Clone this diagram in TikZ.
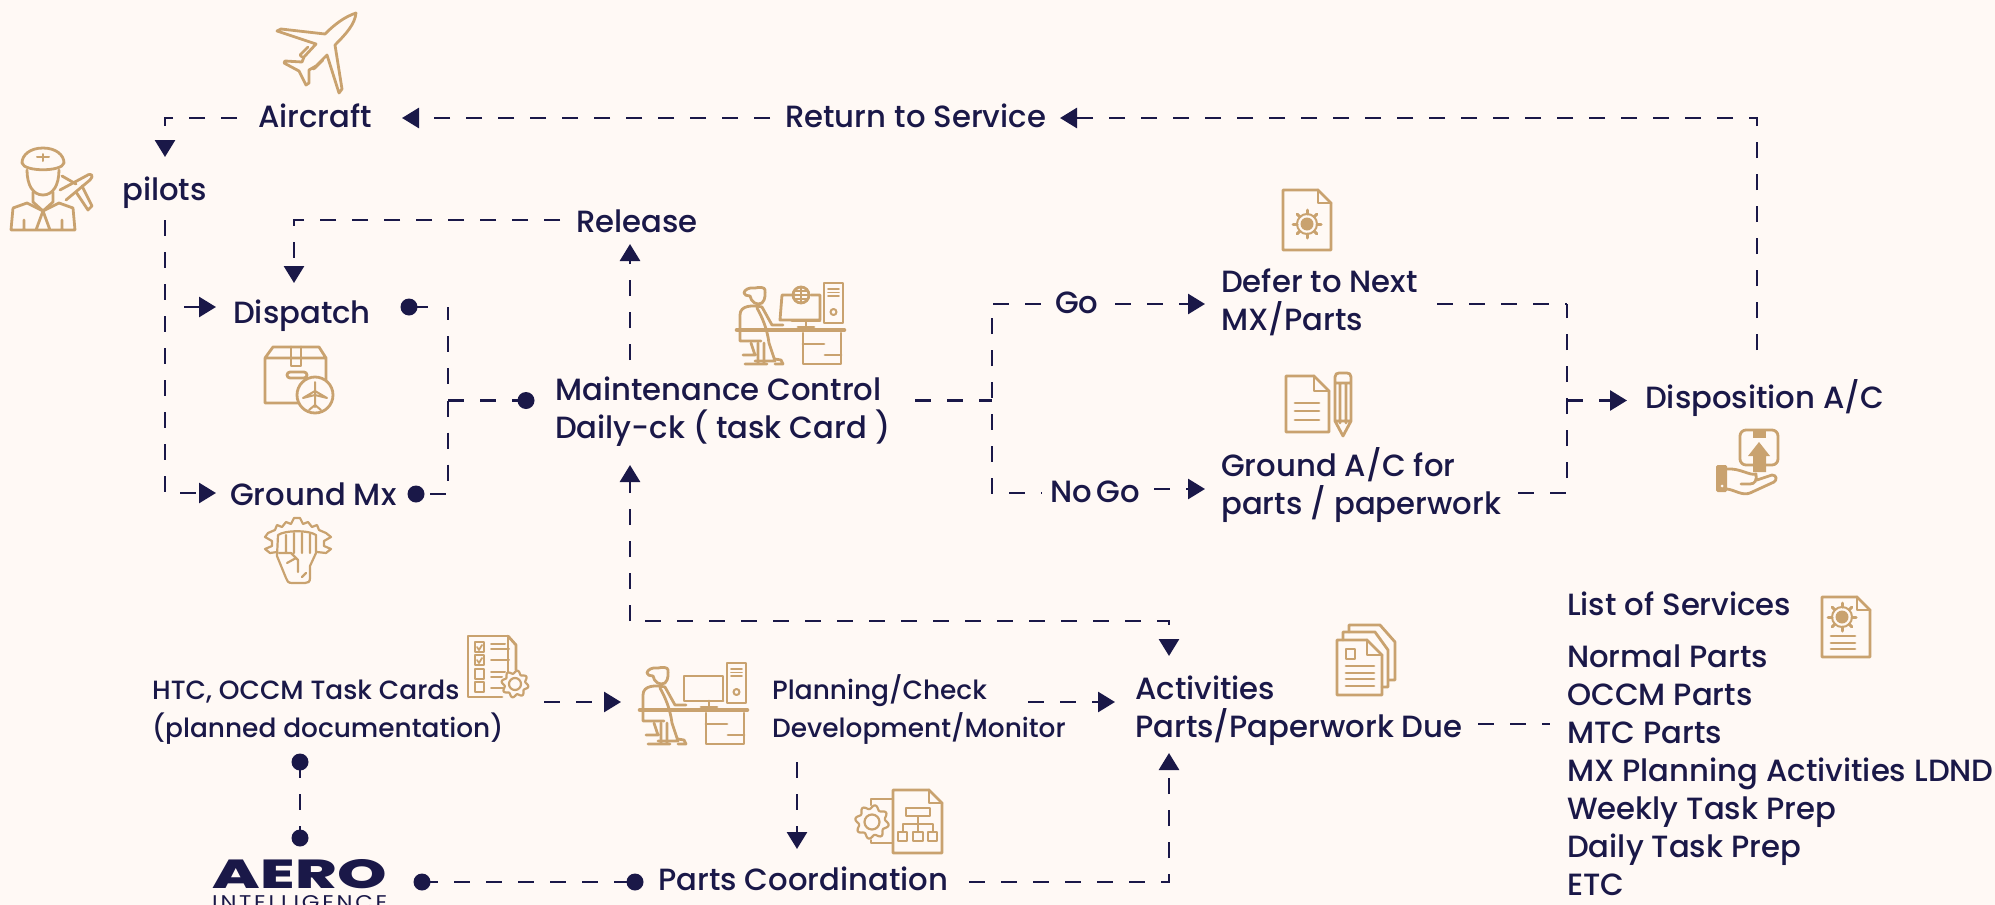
\documentclass[tikz,border=0pt]{standalone}
\usepackage{fontspec}
\usepackage{graphicx}
\usetikzlibrary{arrows.meta}
\newfontfamily\popm{Poppins Medium}
\newfontfamily\popb{Poppins ExtraBold}[LetterSpace=1]
\newfontfamily\popl{Poppins}[LetterSpace=12]
\definecolor{bgc}{HTML}{FFF9F5}
\definecolor{navy}{HTML}{1A1848}
\definecolor{tanc}{HTML}{C9A26F}
\tikzset{
 dl/.style={navy,line width=2.8pt,dash pattern=on 16pt off 16pt},
 tipped/.style={-{Triangle[length=17pt,width=20pt]}},
 dotn/.style={circle,fill=navy,inner sep=0pt,minimum size=17pt},
 lab/.style={anchor=base west,inner sep=0pt,text=navy,font=\popm\fontsize{30.7}{38}\selectfont,align=left},
 labs/.style={anchor=base west,inner sep=0pt,text=navy,font=\popm\fontsize{26.4}{38}\selectfont,align=left},
 ic/.style={draw=tanc,line width=2.8pt,line join=round,line cap=round},
 icf/.style={fill=tanc,draw=none},
}
% cog outline
\newcommand{\cogi}[3]{\draw[ic,line width=2.2pt,fill=bgc] plot[domain=0:360,samples=73,smooth] ({#1+#3*(1+0.13*sin(8*\x))*cos(\x)},{#2+#3*(1+0.13*sin(8*\x))*sin(\x)})--cycle;
 \draw[ic,line width=2.2pt] (#1,#2) circle ({0.5*#3});}
% sun gear of a document
\newcommand{\sungear}[2]{\fill[tanc] (#1,#2) circle (6.5);
 \draw[ic,line width=2pt] (#1,#2) circle (10);
 \foreach \a in {0,45,...,315}{\draw[ic,line width=3pt] ({#1+10*cos(\a)},{#2+10*sin(\a)})--({#1+14*cos(\a)},{#2+14*sin(\a)});}}
% page with dog ear
\newcommand{\pagei}[5]{\draw[ic] (#1,#2)--({#3-#5},#2)--(#3,{#2+#5})--(#3,#4)--(#1,#4)--cycle;
 \draw[ic] ({#3-#5},#2)--({#3-#5},{#2+#5})--(#3,{#2+#5});}
% person at a desk
\newcommand{\deski}[3]{\begin{scope}[shift={(#1,#2)}]
 \draw[ic] (89,0) rectangle (108,40);
 \draw[ic,line width=1.8pt] (93,6)--(104,6) (93,9.5)--(104,9.5) (93,13)--(104,13);
 \draw[ic,line width=2pt] (98.5,29) circle (3);
 #3
 \draw[ic] (57,38)--(85,38) (71,38)--(71,43) (63,44)--(79,44);
 \draw[ic,line width=4.6pt] (2,47)--(109,47);
 \draw[ic] (68,50)--(68,81)--(106,81)--(106,50) (68,61)--(89,61) (90,72)--(106,72);
 \draw[ic] (20,5) .. controls (14,4) and (9,7) .. (9,10) .. controls (9,12) and (12,13) .. (15,13) .. controls (16,19) and (22,23) .. (27,20) .. controls (31,16) and (30,10) .. (30,7) .. controls (30,4) and (24,4) .. (20,5);
 \draw[ic] (27,24) .. controls (18,22) and (5,22) .. (5,32) -- (5,58) -- (26,58);
 \draw[ic] (22,25) .. controls (27,34) and (32,45) .. (34,60) -- (40,78) -- (20,78);
 \draw[ic] (27,24) -- (37,42) -- (48,42);
 \draw[ic] (16,60)--(20,72)--(8,72) (23,60)--(23,81) (29,60)--(29,81) (10,81)--(32,81) (40,81)--(48,81)--(46,77)--(40,76);
 \end{scope}}
\begin{document}
\begin{tikzpicture}[x=1pt,y=-1pt]
\useasboundingbox (0,0) rectangle (1995,905);
\fill[bgc] (0,0) rectangle (1995,905);
\clip (0,0) rectangle (1995,905);
% text nodes
\node[lab] (aircraft) at (258,127) {Aircraft};
\node[lab] (pilots) at (122,200) {pilots};
\node[lab] (retsvc) at (785,127) {Return to Service};
\node[lab] (release) at (576,232) {Release};
\node[lab] (dispatch) at (233,323) {Dispatch};
\node[lab] (groundmx) at (230,505) {Ground Mx};
\node[lab] (maint) at (555,438) {Maintenance Control\\Daily-ck ( task Card )};
\node[lab] (go) at (1055,313) {Go};
\node[lab] (nogo) at (1050,502) {No\hspace{-3pt} Go};
\node[lab] (defer) at (1221,330) {Defer to Next\\MX/Parts};
\node[lab] (gac) at (1221,514) {Ground A/C for\\parts / paperwork};
\node[lab] (dispo) at (1645,408) {Disposition A/C};
\node[labs] (htc) at (152,737) {HTC, OCCM Task Cards\\(planned documentation)};
\node[labs] (plan) at (772,737) {Planning/Check\\Development/Monitor};
\node[lab] (act) at (1135,737) {Activities\\Parts/Paperwork Due};
\node[lab] (coord) at (658,890) {Parts Coordination};
\node[lab] (lst) at (1567,615) {List of Services};
\node[lab] (svc) at (1567,895) {Normal Parts\\OCCM Parts\\MTC Parts\\MX Planning Activities LDND\\Weekly Task Prep\\Daily Task Prep\\ETC};
% dots
\node[dotn] (dD) at (409,307) {};
\node[dotn] (dG) at (416,494) {};
\node[dotn] (dM) at (526,400.5) {};
\node[dotn] (dH) at (300,762) {};
\node[dotn] (dA) at (300,838) {};
\node[dotn] (dL) at (422,882) {};
\node[dotn] (dP) at (635,882) {};
% coordinates
\coordinate (aL) at (237,118); \coordinate (aC) at (165,118); \coordinate (pT) at (165,157);
\coordinate (pB) at (165,220); \coordinate (pC) at (165,493); \coordinate (gT) at (216,493);
\coordinate (dS) at (184,307); \coordinate (dT) at (216,307);
\coordinate (rL) at (770,118); \coordinate (aR) at (402,118);
\coordinate (oU) at (1757,350); \coordinate (oC) at (1757,118); \coordinate (rR) at (1060,118);
\coordinate (jD) at (448,307); \coordinate (jM) at (448,400.5); 
\coordinate (mU) at (630,360); \coordinate (mT) at (630,244);
\coordinate (rS) at (560,220); \coordinate (rC) at (294,220); \coordinate (dpT) at (294,283);
\coordinate (mB) at (630,465); \coordinate (mC) at (630,621); \coordinate (aC2) at (1169,621); \coordinate (aT) at (1169,656);
\coordinate (mR) at (915,400.5); \coordinate (j2) at (992,400.5); \coordinate (j2u) at (992,398); \coordinate (gC) at (992,318);
\coordinate (gS) at (993,304); \coordinate (gL) at (1043,304); \coordinate (gR) at (1115,304); \coordinate (dfT) at (1205,304);
\coordinate (j2d) at (992,414); \coordinate (nC) at (992,493); \coordinate (nL) at (1042,493);
\coordinate (nR) at (1154,489); \coordinate (gaT) at (1205,489);
\coordinate (dfR) at (1437,304); \coordinate (j3t) at (1567,304); \coordinate (j3b) at (1567,493); \coordinate (gaR) at (1518,493);
\coordinate (j3) at (1567,400.5); \coordinate (dpo) at (1627,400.5);
\coordinate (hR) at (544,702); \coordinate (plL) at (621,702);
\coordinate (plR) at (1028,702); \coordinate (acL) at (1115,702);
\coordinate (plB) at (797,762); \coordinate (coT) at (797,849);
\coordinate (coR) at (969,882); \coordinate (cC) at (1169,882); \coordinate (aB) at (1169,753);
\coordinate (acR) at (1478,724); \coordinate (svL) at (1550,724);
% connectors
\draw[dl,tipped] (rL)--(aR);
\draw[dl,tipped] (oU)--(oC)--(rR);
\draw[dl,tipped] (aL)--(aC)--(pT);
\draw[dl,tipped] (pB)--(pC)--(gT);
\draw[dl,tipped] (dS)--(dT);
\draw[dl,dash pattern=on 19pt off 20pt on 13pt off 16pt on 16pt off 16pt on 16pt off 100pt] (dD.center)--(jD)--(jM);
\draw[dl] (jM)--(jD|-dG)--(dG.center);
\draw[dl] (jM)--(dM.center);
\draw[dl,tipped] (mU)--(mT);
\draw[dl,tipped] (rS)--(rC)--(dpT);
\draw[dl,tipped] (mC)--(mB);
\draw[dl,tipped,dash phase=17pt] (mC)--(aC2)--(aT);
\draw[dl] (mR)--(j2);
\draw[dl] (j2u)--(gC);
\draw[dl] (gS)--(gL);
\draw[dl,tipped] (gR)--(dfT);
\draw[dl] (j2d)--(nC)--(nL);
\draw[dl,tipped] (nR)--(gaT);
\draw[dl] (dfR)--(j3t);
\draw[dl] (gaR)--(j3b)--(j3t);
\draw[dl,tipped] (j3)--(dpo);
\draw[dl,tipped] (hR)--(plL);
\draw[dl,tipped] (plR)--(acL);
\draw[dl,tipped] (plB)--(coT);
\draw[dl,tipped] (coR)--(cC)--(aB);
\draw[dl] (acR)--(svL);
\draw[dl] (dH.center)--(dA.center);
\draw[dl] (dL.center)--(dP.center);
% AERO logo
\node[anchor=south west,inner sep=0pt,text=navy] (aero) at (212,888.5) {\resizebox{175pt}{29pt}{\popb AERO}};
\node[anchor=north west,inner sep=0pt,text=navy] (intel) at (212,895) {\resizebox{175pt}{14pt}{\popl INTELLIGENCE}};
% plane
\draw[ic] (356,13) .. controls (344,17) and (334,25) .. (325,34) -- (281,29) -- (277,31) -- (316,44) -- (304,57) -- (302,62) -- (285,61) -- (284,63) -- (299,71) -- (306,85) -- (309,83) -- (309,70) -- (316,66) -- (327,55) -- (339,93) -- (342,89) -- (335,45) .. controls (346,34) and (355,24) .. (356,13) -- cycle;
\draw[ic] (308,47)--(300,55)--(302,57) (323,60)--(315,68)--(313,69);
% pilot
\draw[ic] (43,148) .. controls (30,148) and (22,155) .. (22,163) .. controls (24,172) and (62,172) .. (64,163) .. controls (64,155) and (56,148) .. (43,148) -- cycle;
\draw[ic,line width=2pt] (37,157)--(49,157) (43,154)--(43,161);
\draw[ic] (27,170) .. controls (27,185) and (33,195) .. (43,195) .. controls (53,195) and (59,185) .. (59,170);
\draw[ic] (33,192)--(33,202)--(43,211)--(53,202)--(53,192);
\draw[ic] (11,230)--(75,230) (13,208)--(27,203)--(43,211)--(59,203)--(73,208)--(75,230) (13,208)--(11,230) (43,211)--(36,230) (43,211)--(50,230) (24,220)--(24,230) (62,220)--(62,230);
\draw[ic] (60,190) -- (86,176) .. controls (92,172) and (94,176) .. (90,180) -- (66,200);
\draw[ic] (62,176)--(76,184) (76,192)--(88,210)--(92,206)--(82,186);
% box icon
\draw[ic] (265,358)--(273,347)--(319,347)--(326,358)--(326,385) (265,358)--(326,358) (265,358)--(265,403)--(298,403);
\draw[ic] (291,347)--(291,366)--(301,366)--(301,347);
\draw[ic,rounded corners=3pt] (287,372) rectangle (307,378);
\draw[ic,fill=bgc] (315,395) circle (18);
\draw[ic,line width=2pt] (315,382)--(315,407) (303,398)--(315,391)--(327,398)--(315,395)--cycle (309,410)--(315,405)--(321,410);
% fist icon: gear teeth, wrench, fist
\draw[ic,line width=2.2pt] (275,530)--(277,525)--(282,527)--(286,522)--(291,524)--(294,518)--(300,518)--(303,524)--(308,522)--(312,527)--(317,525)--(319,530);
\draw[ic,line width=2.2pt] (275,530)--(268,533)--(265,537)--(272,541)--(272,546)--(265,549)--(270,553)--(277,552) (319,530)--(326,533)--(331,537)--(324,541)--(324,546)--(331,549)--(326,553)--(317,552);
\draw[ic,line width=2.2pt] (278,535) .. controls (285,530) and (309,530) .. (316,535) -- (316,553) -- (310,566)--(310,578) .. controls (310,582) and (308,583) .. (305,583)--(292,583) .. controls (288,583) and (287,581) .. (286,578)--(277,556)--(278,535);
\draw[ic,line width=2.2pt] (286,535)--(286,553) (294,533)--(294,553) (302,533)--(302,553) (310,534)--(310,553) (279,553)--(291,553) (291,553)--(298,560)--(298,572) (287,563)--(296,558) (302,577)--(306,573);
% desks
\deski{735}{283}{\draw[ic] (60,12)--(47,12)--(45,37)--(85,37)--(85,12)--(76,12);
 \draw[ic] (66,12) circle (8); \draw[ic,line width=1.6pt] (58,12)--(74,12) (66,4)--(66,20) (60,8)--(72,8) (60,16)--(72,16);}
\deski{638}{663}{\draw[ic] (46,13)--(85,13)--(85,38)--(46,38)--cycle;}
% documents with gear
\pagei{1283}{190}{1331}{250}{13}
\sungear{1307}{224}
\pagei{1822}{597}{1870}{657}{13}
\sungear{1842}{617}
\draw[ic] (1831,636)--(1855,636) (1831,643)--(1855,643) (1831,649)--(1855,649);
% doc and pencil
\pagei{1286}{376}{1329}{432}{15}
\draw[ic] (1295,403)--(1319,403) (1295,411)--(1319,411) (1295,420)--(1319,420);
\draw[ic] (1335,421)--(1335,377) .. controls (1335,374) and (1337,373) .. (1339,373) -- (1347,373) .. controls (1349,373) and (1351,374) .. (1351,377) -- (1351,421) -- (1343,436) -- cycle (1335,383)--(1351,383) (1340,383)--(1340,423) (1346,383)--(1346,423) (1335,421)--(1351,421);
% hand
\draw[ic,rounded corners=6pt] (1740,430) rectangle (1778,465);
\fill[tanc] (1753,430) rectangle (1766,438);
\fill[tanc] (1759,442)--(1770,456)--(1766,456)--(1766,472)--(1753,472)--(1753,456)--(1748,456)--cycle;
\fill[tanc,rounded corners=1.5pt] (1716,465) rectangle (1727,492);
\fill[bgc] (1722,486) circle (1.5);
\draw[ic] (1727,469) .. controls (1740,468) and (1750,476) .. (1756,474) .. controls (1757,480) and (1755,484) .. (1750,484) -- (1741,484) (1757,480) -- (1772,475) .. controls (1777,475) and (1777,480) .. (1774,482) -- (1750,493) .. controls (1742,496) and (1735,490) .. (1727,489);
% checklist
\draw[ic] (508,682)--(508,636)--(468,636)--(468,697)--(502,697);
\draw[ic] (508,636)--(516,645)--(516,670);
\foreach \y in {642,655,669,682}{\draw[ic,line width=2pt] (475,\y) rectangle (484,\y+10);}
\draw[ic,line width=1.8pt] (477,647)--(479,650)--(482,645) (477,660)--(479,663)--(482,658);
\draw[ic,line width=2pt] (491,644)--(505,644) (491,649)--(509,649) (491,660)--(509,660) (491,672)--(505,672) (491,677)--(502,677) (491,688)--(503,688);
\cogi{515}{684}{12}
% stacked documents
\draw[ic] (1349,632)--(1349,625)--(1380,625)--(1395,642)--(1395,680)--(1389,680);
\draw[ic] (1343,640)--(1343,632)--(1375,632)--(1388,650)--(1388,687)--(1382,687);
\pagei{1337}{640}{1382}{695}{15}
\draw[ic] (1346,649) rectangle (1355,659);
\draw[ic] (1346,666)--(1374,666) (1346,673)--(1374,673) (1346,679)--(1374,679) (1346,686)--(1374,686);
% org doc
\pagei{893}{790}{942}{853}{13}
\draw[ic] (906,808) rectangle (930,816);
\draw[ic,line width=2pt] (918,816)--(918,824) (903,832)--(903,824)--(933,824)--(933,832) (918,824)--(918,832);
\draw[ic,line width=2pt] (898,832) rectangle (907,841) (913,832) rectangle (923,841) (928,832) rectangle (937,841);
\draw[ic,line width=2pt] (893,799)--(871,799)--(871,805) (871,840)--(871,843)--(893,843);
\cogi{872}{822}{15}
\end{tikzpicture}
\end{document}
